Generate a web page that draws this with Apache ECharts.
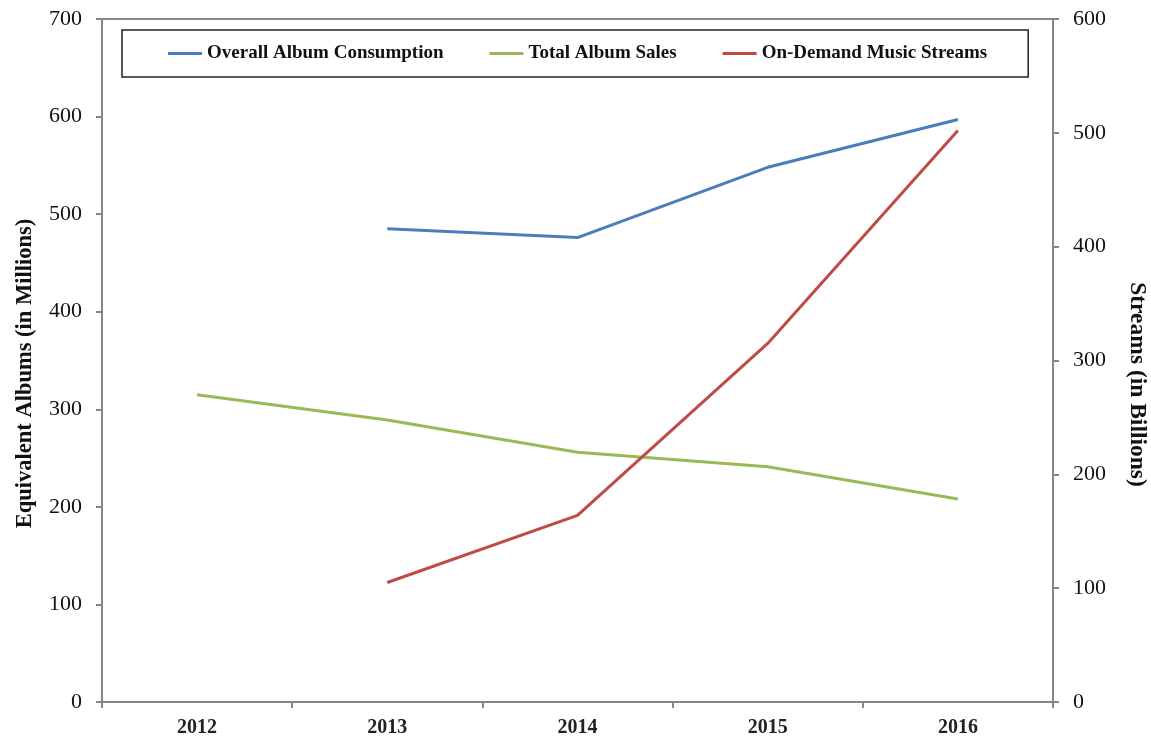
<!DOCTYPE html>
<html>
<head>
<meta charset="utf-8">
<script src="https://cdn.jsdelivr.net/npm/echarts@6/dist/echarts.min.js"></script>
<style>
  html, body { margin: 0; padding: 0; background: #fff; }
  #chart { width: 1151px; height: 738px; }
</style>
</head>
<body>
<div id="chart"></div>
<script>
// data
const years = ['2012', '2013', '2014', '2015', '2016'];
const albumConsumption = [null, 485, 476, 548, 597];  // millions
const albumSales = [315, 289, 256, 241, 208];          // millions
const streams = [null, 105, 164, 315, 502];            // billions

const serif = '"Liberation Serif", "Times New Roman", serif';
const axisGray = '#868686';

const chart = echarts.init(document.getElementById('chart'));

const option = {
    animation: false,
    backgroundColor: '#fff',
    textStyle: { fontFamily: serif },
    legend: {
        left: 122,
        top: 30,
        padding: [14, 41, 14, 46],
        borderColor: '#222',
        borderWidth: 1.5,
        itemGap: 46,
        itemWidth: 34,
        itemHeight: 3,
        icon: 'rect',
        textStyle: {
            fontFamily: serif,
            fontWeight: 'bold',
            fontSize: 19,
            color: '#111'
        },
        data: ['Overall Album Consumption', 'Total Album Sales', 'On-Demand Music Streams']
    },
    grid: {
        left: 102,
        right: 98,
        top: 19,
        bottom: 36,
        outerBoundsMode: 'none',
        show: true,
        borderColor: axisGray,
        borderWidth: 2
    },
    xAxis: {
        type: 'category',
        data: years,
        boundaryGap: true,
        axisLine: { lineStyle: { color: axisGray, width: 2 } },
        axisTick: { show: true, length: 6, lineStyle: { color: axisGray, width: 2 } },
        axisLabel: { fontFamily: serif, fontSize: 20, fontWeight: 'bold', color: '#222', margin: 16 }
    },
    yAxis: [
        {
            type: 'value',
            min: 0,
            max: 700,
            interval: 100,
            name: 'Equivalent Albums (in Millions)',
            nameLocation: 'middle',
            nameGap: 65,
            // nudged down a bit, the original title sits below centre
            nameTextStyle: { fontFamily: serif, fontWeight: 'bold', fontSize: 22.5, color: '#111', padding: [0, 26, 0, 0] },
            axisLine: { show: true, lineStyle: { color: axisGray, width: 2 } },
            axisTick: { show: true, length: 6, lineStyle: { color: axisGray, width: 2 } },
            axisLabel: { fontFamily: serif, fontSize: 22, color: '#111', margin: 20 },
            splitLine: { show: false }
        },
        {
            type: 'value',
            min: 0,
            max: 600,
            interval: 100,
            position: 'right',
            name: 'Streams (in Billions)',
            nameLocation: 'middle',
            nameRotate: -90,
            nameGap: 72,
            nameTextStyle: { fontFamily: serif, fontWeight: 'bold', fontSize: 23.5, color: '#111', padding: [0, 0, 0, 48] },
            axisLine: { show: true, lineStyle: { color: axisGray, width: 2 } },
            axisTick: { show: true, length: 6, lineStyle: { color: axisGray, width: 2 } },
            axisLabel: { fontFamily: serif, fontSize: 22, color: '#111', margin: 20 },
            splitLine: { show: false }
        }
    ],
    series: [
        {
            name: 'Overall Album Consumption',
            type: 'line',
            yAxisIndex: 0,
            data: albumConsumption,
            symbol: 'none',
            color: '#4a7ebb',
            lineStyle: { width: 3, color: '#4a7ebb' }
        },
        {
            name: 'Total Album Sales',
            type: 'line',
            yAxisIndex: 0,
            data: albumSales,
            symbol: 'none',
            color: '#98b954',
            lineStyle: { width: 3, color: '#98b954' }
        },
        {
            name: 'On-Demand Music Streams',
            type: 'line',
            yAxisIndex: 1,
            data: streams,
            symbol: 'none',
            color: '#be4b48',
            lineStyle: { width: 3, color: '#be4b48' }
        }
    ]
};

chart.setOption(option);
</script>
</body>
</html>
